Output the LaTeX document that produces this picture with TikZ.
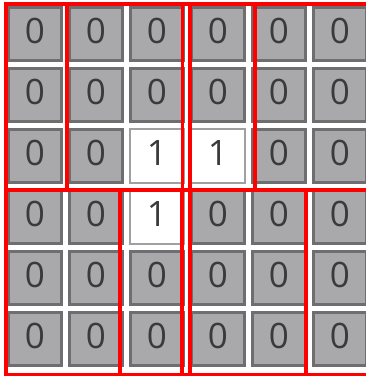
\documentclass[tikz,border=0pt]{standalone}
\usepackage{fontspec}
\setmainfont{Open Sans}
\definecolor{cellgray}{HTML}{A9A9AB}
\definecolor{cellborder}{HTML}{6E6E70}
\definecolor{whiteborder}{HTML}{A0A0A0}
\definecolor{digit}{HTML}{3A3A3A}
\definecolor{redline}{HTML}{FF0000}
\tikzset{
  graycell/.style={fill=cellgray,draw=cellborder,line width=2.6pt},
  whitecell/.style={fill=white,draw=whiteborder,line width=2pt},
  digitlabel/.style={font=\fontsize{35}{35}\selectfont,text=digit,inner sep=0pt},
  window/.style={draw=redline,line width=3.4pt}
}
\begin{document}
\begin{tikzpicture}[x=1pt,y=-1pt]
\useasboundingbox (0,0) rectangle (366,376);
\clip (0,0) rectangle (366,376);
\fill[white] (0,0) rectangle (366,376);
\foreach \r/\rowvals in {0/{0,0,0,0,0,0},1/{0,0,0,0,0,0},2/{0,0,1,1,0,0},3/{0,0,1,0,0,0},4/{0,0,0,0,0,0},5/{0,0,0,0,0,0}}{
  \foreach \v [count=\c from 0] in \rowvals {
    \pgfmathsetmacro{\xx}{7+61*\c}
    \pgfmathsetmacro{\yy}{6+61*\r}
    \ifnum\v=1
      \draw[whitecell] (\xx+1,\yy+1) rectangle ++(54,54);
    \else
      \draw[graycell] (\xx+1.3,\yy+1.3) rectangle ++(53.4,53.4);
    \fi
    \node[digitlabel] (n\r\c) at (\xx+28,\yy+25) {\v};
  }
}
% receptive windows, top band
\draw[window] (6,4) rectangle (182.5,190);
\draw[window] (67,4) rectangle (255,190);
\draw[window] (190,4) rectangle (390,190);
% receptive windows, bottom band
\draw[window] (6,190) rectangle (182,375);
\draw[window] (120,190) rectangle (306,375);
\draw[window] (190,190) rectangle (390,375);
\end{tikzpicture}
\end{document}
